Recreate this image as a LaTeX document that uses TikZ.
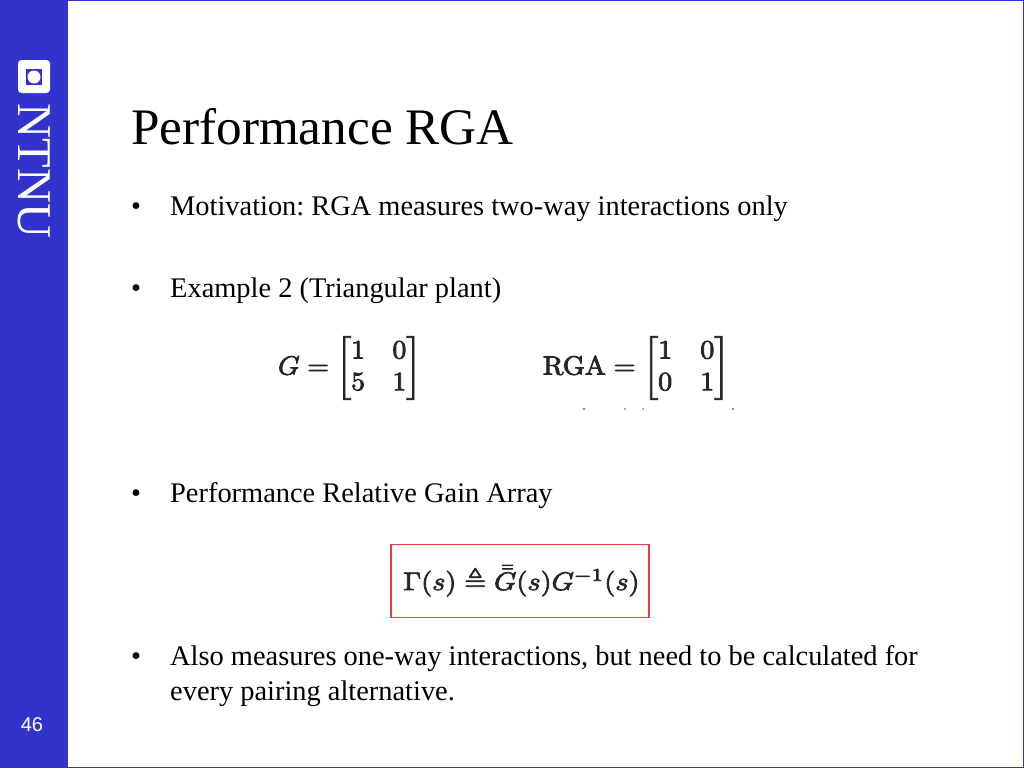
\documentclass[tikz,border=0pt]{standalone}
\usepackage[no-math]{fontspec}
\usepackage{amsmath,amssymb}
\setmainfont{Liberation Serif}
\newfontfamily\sidesans{Liberation Sans}
\definecolor{ntnublue}{RGB}{50,50,204}
\definecolor{boxred}{RGB}{232,60,60}
\newcommand{\heavy}[1]{\special{pdf:code 2 Tr 0.28 w}#1\special{pdf:code 0 Tr 0 w}}
\tikzset{
  x=1pt,y=-1pt,
  bodytext/.style={anchor=base west,inner sep=0pt,font=\frenchspacing\fontsize{28.4}{32}\selectfont,text=black},
  bulletmark/.style={anchor=base west,inner sep=0pt,font=\fontsize{28.4}{32}\selectfont,text=black},
  eqn/.style={inner sep=0pt,text=black!85},
  speck/.style={fill=black!60}
}
\begin{document}
\begin{tikzpicture}
\useasboundingbox (0,0) rectangle (1024,768);
\fill[white] (0,0) rectangle (1024,768);
\draw[ntnublue,line width=1.5pt] (0,0.75) -- (1023.25,0.75) -- (1023.25,767.25) -- (0,767.25);
\fill[ntnublue] (0,0) rectangle (68,768);
% logo
\fill[white,rounded corners=3.5pt] (18,60) rectangle (50,93);
\fill[ntnublue] (26,69) rectangle (42,85);
\fill[white] (34,77) circle (6.5pt);
\node[name=wordmark,rotate=-90,inner sep=0pt,text=white,font=\fontsize{48.5}{48}\selectfont] at (34.5,171) {NTNU};
\node[name=pagenum,inner sep=0pt,text=white,font=\sidesans\fontsize{20}{20}\selectfont] at (32,725) {46};
% title
\node[name=title,anchor=base west,inner sep=0pt,font=\fontsize{51.2}{56}\selectfont] at (131,144) {Performance RGA};
% bullets
\node[name=b1,bulletmark] at (131,215.5) {•};
\node[name=t1,bodytext] at (170,215.5) {Motivation: RGA measures two-way interactions only};
\node[name=b2,bulletmark] at (131,297.5) {•};
\node[name=t2,bodytext] at (170,297.5) {Example 2 (Triangular plant)};
\node[name=b3,bulletmark] at (131,502.5) {•};
\node[name=t3,bodytext] at (170,502.5) {Performance Relative Gain Array};
\node[name=b4,bulletmark] at (131,665.5) {•};
\node[name=t4,bodytext] at (170,665.5) {Also measures one-way interactions, but need to be calculated for};
\node[name=t5,bodytext] at (170,700.5) {every pairing alternative.};
% equations
\node[name=eqg,eqn,xscale=2.76,yscale=2.65] at (349.5,368) {\heavy{$G=\begin{bmatrix}1&0\\5&1\end{bmatrix}$}};
\node[name=eqr,eqn,xscale=2.81,yscale=2.65] at (636,368) {\heavy{$\mathrm{RGA}=\begin{bmatrix}1&0\\0&1\end{bmatrix}$}};
\node[name=eqbox,draw=boxred,line width=1.3pt,minimum width=258pt,minimum height=73pt,inner sep=0pt] at (520,581) {};
\node[name=eqp,eqn,xscale=2.83,yscale=2.55] at (521.5,581) {\heavy{$\Gamma(s)\triangleq\bar{\bar G}(s)G^{-1}(s)$}};
% remnants beneath the matrix
\fill[speck] (584,409) circle (1.1pt);
\fill[speck] (625,409) circle (0.9pt);
\fill[speck] (643,409) circle (0.9pt);
\fill[speck] (733,409) circle (1.1pt);
\end{tikzpicture}
\end{document}
